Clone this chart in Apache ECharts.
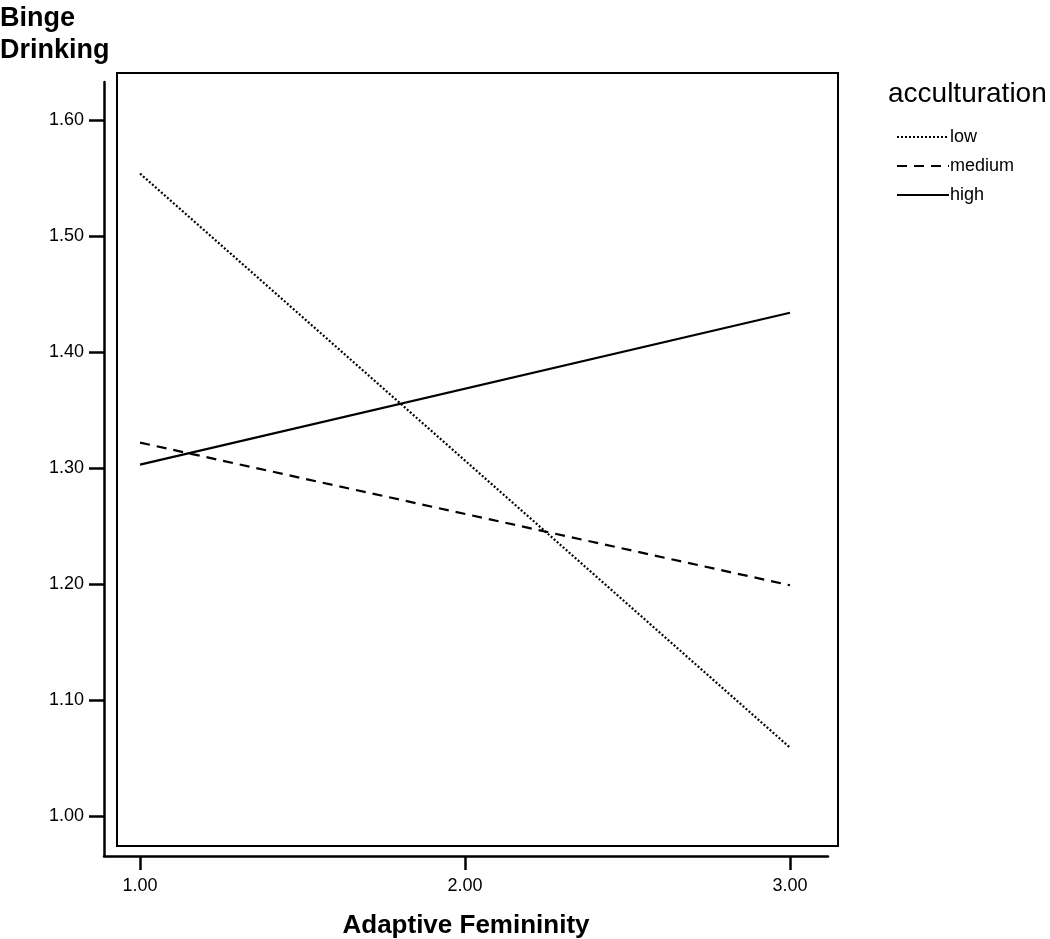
<!DOCTYPE html>
<html>
<head>
<meta charset="utf-8">
<script src="https://cdn.jsdelivr.net/npm/echarts@6/dist/echarts.min.js"></script>
<style>
  html, body { margin: 0; padding: 0; background: #fff; }
  #chart { width: 1050px; height: 939px; }
</style>
</head>
<body>
<div id="chart"></div>
<script>
// x positions of the two end points
const xValues = [1, 3];
// predicted binge drinking per acculturation group
const lowValues = [1.554, 1.059];
const mediumValues = [1.322, 1.199];
const highValues = [1.303, 1.434];
const groupNames = ["low", "medium", "high"];
const yTicks = [1.0, 1.1, 1.2, 1.3, 1.4, 1.5, 1.6];
const xTicks = [1, 2, 3];

const font = "Liberation Sans, Arial, Helvetica, sans-serif";
const myChart = echarts.init(document.getElementById("chart"));

const pairUp = (ys) => xValues.map((x, i) => [x, ys[i]]);
const makeSeries = (name, ys, dash) => ({
  name: name,
  type: "line",
  data: pairUp(ys),
  symbol: "none",
  silent: true,
  lineStyle: { color: "#000", width: 2.2, type: dash },
  itemStyle: { color: "#000" },
});

const option = {
  backgroundColor: "#fff",
  animation: false,
  textStyle: { fontFamily: font },
  title: [
    {
      text: "Binge\nDrinking",
      left: 0,
      top: 3,
      padding: 0,
      textStyle: { fontSize: 27, fontWeight: "bold", color: "#000", lineHeight: 32, fontFamily: font },
    },
    {
      text: "acculturation",
      left: 888,
      top: 80,
      padding: 0,
      textStyle: { fontSize: 28, fontWeight: "normal", color: "#000", fontFamily: font },
    },
  ],
  legend: {
    orient: "vertical",
    left: 896,
    top: 128,
    padding: 0,
    itemWidth: 52,
    itemHeight: 10,
    itemGap: 11,
    data: groupNames,
    itemStyle: { opacity: 0 },
    textStyle: { fontSize: 18, color: "#000", fontFamily: font, padding: [0, 0, 0, -4] },
    selectedMode: false,
  },
  grid: { left: 104, right: 222, top: 82, bottom: 83, outerBoundsMode: "none" },
  xAxis: {
    type: "value",
    min: 0.889,
    max: 3.117,
    name: "Adaptive Femininity",
    nameLocation: "middle",
    nameGap: 57,
    nameTextStyle: { fontSize: 26, fontWeight: "bold", color: "#000", fontFamily: font },
    axisLine: { show: true, lineStyle: { color: "#000", width: 2.5 } },
    axisTick: { show: true, length: 14, lineStyle: { color: "#000", width: 2.5 }, customValues: xTicks },
    axisLabel: {
      customValues: xTicks,
      formatter: (v) => v.toFixed(2),
      fontSize: 18,
      color: "#000",
      margin: 21,
      fontFamily: font,
    },
    splitLine: { show: false },
  },
  yAxis: {
    type: "value",
    min: 0.9655,
    max: 1.633,
    axisLine: { show: true, lineStyle: { color: "#000", width: 2.5 } },
    axisTick: { show: true, length: 15, lineStyle: { color: "#000", width: 2.5 }, customValues: yTicks },
    axisLabel: {
      customValues: yTicks,
      formatter: (v) => v.toFixed(2),
      fontSize: 18,
      color: "#000",
      margin: 20,
      fontFamily: font,
    },
    splitLine: { show: false },
  },
  graphic: [
    {
      // inner frame of the plot
      type: "rect",
      shape: { x: 117, y: 73, width: 721, height: 773 },
      style: { fill: "none", stroke: "#000", lineWidth: 2 },
      silent: true,
    },
  ],
  series: [
    makeSeries("low", lowValues, [2, 2]),
    makeSeries("medium", mediumValues, [10, 7]),
    makeSeries("high", highValues, "solid"),
  ],
};

option && myChart.setOption(option);
</script>
</body>
</html>
